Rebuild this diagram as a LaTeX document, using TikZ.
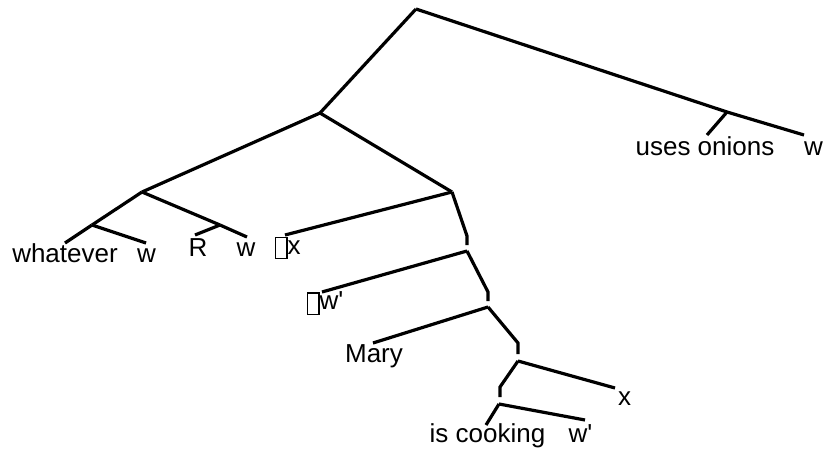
\documentclass[tikz,border=0pt]{standalone}
\usepackage{fontspec}
\setmainfont{Liberation Sans}
\newcommand\tofubox{\raisebox{-4pt}{\fboxsep=0pt\fboxrule=1.2pt\fbox{\rule{0pt}{20pt}\hspace{10pt}}}}
\newcommand\apos{\textquotesingle}
\tikzset{
  lbl/.style={inner sep=0pt, anchor=base, font=\fontsize{26}{28}\selectfont},
  lblw/.style={lbl, anchor=base west},
  br/.style={line width=3.2pt, line cap=butt, line join=miter}
}
\begin{document}
\begin{tikzpicture}[x=1pt,y=-1pt]
\useasboundingbox (0,0) rectangle (825,455);
% branching points
\coordinate (root) at (416,9);
\coordinate (r1) at (727,112);
\coordinate (l1) at (320,113);
\coordinate (a) at (142,192);
\coordinate (b) at (92,225);
\coordinate (c) at (220,225);
\coordinate (d) at (452,192);
\coordinate (dk) at (467,236);
\coordinate (dt) at (467,245);
\coordinate (e) at (467,251);
\coordinate (ek) at (488,292);
\coordinate (et) at (488,301);
\coordinate (f) at (488,307);
\coordinate (fk) at (518,343);
\coordinate (ft) at (518,354);
\coordinate (g) at (518,361);
\coordinate (gk) at (500,387);
\coordinate (gt) at (500,397);
\coordinate (h) at (499,404);
% leaf ends
\coordinate (uoT) at (707,135);
\coordinate (w4T) at (804,135);
\coordinate (whT) at (65,243);
\coordinate (w1T) at (146,243);
\coordinate (RT) at (195,235);
\coordinate (w2T) at (247,237);
\coordinate (lxT) at (285,235);
\coordinate (lwT) at (322,292);
\coordinate (MaT) at (373,343);
\coordinate (xT) at (615,388);
\coordinate (icT) at (486,425);
\coordinate (w3T) at (585,420);
% labels
\node[lbl] (uses) at (705,155) {uses onions};
\node[lbl] (w4) at (813.5,155) {w};
\node[lbl] (whatever) at (65,262) {whatever};
\node[lbl] (w1) at (146.5,262) {w};
\node[lbl] (R) at (198,256) {R};
\node[lbl] (w2) at (246,256) {w};
\node[lblw] (lx) at (275,254) {\tofubox x};
\node[lblw] (lw) at (307,309.5) {\tofubox w\apos};
\node[lbl] (Mary) at (374,362.5) {Mary};
\node[lbl] (x) at (624.5,405.5) {x};
\node[lbl] (cook) at (487.5,442) {is cooking};
\node[lbl] (w3) at (580.5,442) {w\apos};
% branches
\draw[br] (root) -- (r1);
\draw[br] (r1) -- (uoT);
\draw[br] (r1) -- (w4T);
\draw[br] (root) -- (l1);
\draw[br] (l1) -- (a);
\draw[br] (a) -- (b);
\draw[br] (a) -- (c);
\draw[br] (b) -- (whT);
\draw[br] (b) -- (w1T);
\draw[br] (c) -- (RT);
\draw[br] (c) -- (w2T);
\draw[br] (l1) -- (d);
\draw[br] (d) -- (lxT);
\draw[br] (d) -- (dk) -- (dt);
\draw[br] (e) -- (lwT);
\draw[br] (e) -- (ek) -- (et);
\draw[br] (f) -- (MaT);
\draw[br] (f) -- (fk) -- (ft);
\draw[br] (g) -- (gk) -- (gt);
\draw[br] (g) -- (xT);
\draw[br] (h) -- (icT);
\draw[br] (h) -- (w3T);
\end{tikzpicture}
\end{document}
